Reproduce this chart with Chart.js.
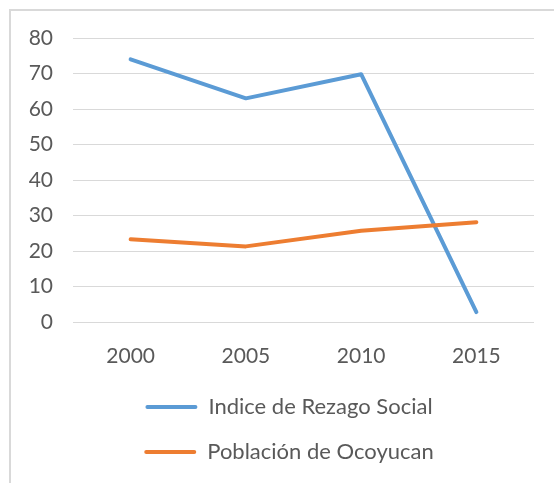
<!DOCTYPE html>
<html>
<head>
<meta charset="utf-8">
<script src="https://cdn.jsdelivr.net/npm/chart.js@4"></script>
<style>
  html, body { margin: 0; padding: 0; background: #fff; }
  #wrap { position: relative; width: 554px; height: 483px; overflow: hidden; }
  #frame { position: absolute; left: 9px; top: 9px; width: 600px; height: 600px;
           border-top: 2px solid #d9d9d9; border-left: 2px solid #d9d9d9; }
  #chart { position: absolute; left: 0; top: 0; }
</style>
</head>
<body>
<div id="wrap">
  <div id="frame"></div>
  <canvas id="chart" width="554" height="483"></canvas>
</div>
<script>
const years = ['2000', '2005', '2010', '2015'];
const rezago = [74, 63, 69.8, 2.8];
const poblacion = [23.3, 21.3, 25.7, 28.1];
const yTicks = [0, 10, 20, 30, 40, 50, 60, 70, 80];

const gris = '#595959';
const fuente = { family: 'Lato', size: 21 };

// la leyenda va un poco a la derecha, centrada bajo el area de datos
const moverLeyenda = {
    id: 'moverLeyenda',
    afterLayout: chart => { chart.legend.left = 44; }
};

new Chart(document.getElementById('chart'), {
    type: 'line',
    data: {
        labels: years,
        datasets: [{
            label: 'Indice de Rezago Social',
            data: rezago,
            borderColor: '#5b9bd5',
            backgroundColor: '#5b9bd5',
            borderWidth: 4,
            borderCapStyle: 'round',
            borderJoinStyle: 'round',
            pointRadius: 0,
            tension: 0,
            order: 1
        }, {
            label: 'Población de Ocoyucan',
            data: poblacion,
            borderColor: '#ed7d31',
            backgroundColor: '#ed7d31',
            borderWidth: 4,
            borderCapStyle: 'round',
            borderJoinStyle: 'round',
            pointRadius: 0,
            tension: 0,
            order: 0
        }]
    },
    options: {
        responsive: false,
        animation: false,
        layout: { padding: { top: 38, right: 20, bottom: 10, left: 0 } },
        scales: {
            x: {
                offset: true,
                grid: { display: false, drawTicks: false },
                border: { display: false },
                ticks: { color: gris, font: fuente, padding: 22, maxRotation: 0 },
                afterFit: s => { s.height = 51; }
            },
            y: {
                min: 0,
                max: 80,
                afterBuildTicks: s => { s.ticks = yTicks.map(v => ({ value: v })); },
                grid: { color: '#d9d9d9', lineWidth: 1, drawTicks: false },
                border: { display: false },
                ticks: { color: gris, font: fuente, padding: 20 },
                afterFit: s => { s.width = 73; }
            }
        },
        plugins: {
            tooltip: { enabled: false },
            legend: {
                position: 'bottom',
                labels: {
                    color: gris,
                    font: { family: 'Lato', size: 22 },
                    boxWidth: 52,
                    boxHeight: 4,
                    padding: 23,
                    useBorderRadius: true,
                    borderRadius: 2,
                    sort: (a, b) => a.datasetIndex - b.datasetIndex,
                    generateLabels: chart => {
                        const items = Chart.defaults.plugins.legend.labels.generateLabels(chart);
                        items.forEach(it => { it.lineWidth = 0; });
                        return items;
                    }
                }
            }
        }
    },
    plugins: [moverLeyenda]
});
</script>
</body>
</html>
